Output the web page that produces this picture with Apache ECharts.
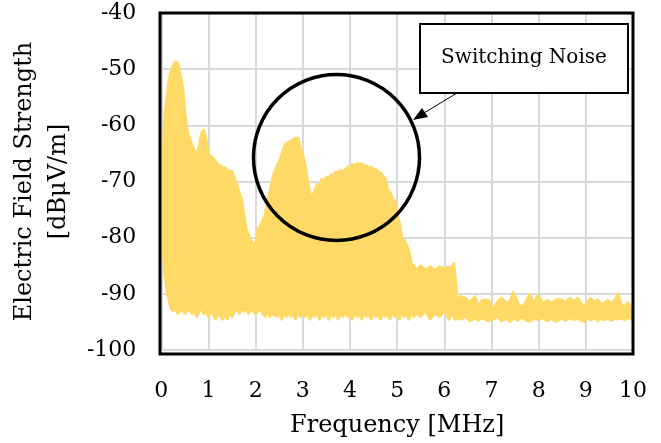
<!DOCTYPE html>
<html>
<head>
<meta charset="utf-8">
<script src="https://cdn.jsdelivr.net/npm/echarts@6.0.0/dist/echarts.min.js"></script>
<style>
  html, body { margin: 0; padding: 0; background: #fff; }
  #chart { width: 661px; height: 443px; }
</style>
</head>
<body>
<div id="chart"></div>
<script>
// frequency points [MHz] with the upper / lower edge of the measured band [dBuV/m]
const freq = [
  0, 0.02, 0.05, 0.08, 0.12, 0.16, 0.2, 0.25, 0.3, 0.35, 0.4, 0.45, 0.5, 0.55, 0.6, 0.65, 0.7, 0.75, 0.8, 0.85,
  0.9, 0.95, 1.0, 1.05, 1.1, 1.15, 1.2, 1.25, 1.3, 1.35, 1.4, 1.45, 1.5, 1.55, 1.6, 1.65, 1.7, 1.75, 1.8, 1.85,
  1.9, 1.95, 2.0, 2.05, 2.1, 2.15, 2.2, 2.26, 2.3, 2.37, 2.45, 2.5, 2.55, 2.6, 2.65, 2.7, 2.75, 2.8, 2.85, 2.9,
  2.95, 3.0, 3.05, 3.1, 3.15, 3.2, 3.25, 3.3, 3.35, 3.4, 3.45, 3.5, 3.55, 3.6, 3.65, 3.7, 3.75, 3.8, 3.85, 3.9,
  3.95, 4.0, 4.05, 4.1, 4.15, 4.2, 4.25, 4.3, 4.35, 4.4, 4.45, 4.5, 4.55, 4.6, 4.65, 4.7, 4.75, 4.8, 4.85, 4.9,
  4.95, 5.0, 5.05, 5.1, 5.15, 5.2, 5.25, 5.3, 5.35, 5.4, 5.5, 5.6, 5.7, 5.8, 5.9, 6.0, 6.1, 6.15, 6.2, 6.24,
  6.28, 6.35, 6.45, 6.55, 6.65, 6.72, 6.8, 6.93, 7.04, 7.12, 7.21, 7.32, 7.4, 7.46, 7.55, 7.64, 7.72, 7.81, 7.9, 7.99,
  8.09, 8.18, 8.27, 8.38, 8.48, 8.57, 8.66, 8.75, 8.83, 8.97, 9.04, 9.11, 9.18, 9.25, 9.32, 9.39, 9.46, 9.54, 9.61, 9.68,
  9.75, 9.82, 9.9, 9.96, 10
];
const upper = [
  -70, -66, -62, -58, -55, -52, -50.5, -49.5, -48.7, -49, -51, -53, -58, -61, -62.5, -63.5, -64.5, -65.3, -64, -61.5,
  -60.9, -62.5, -65.3, -65.5, -65.9, -66.5, -67, -67.2, -67.5, -67.6, -68, -68.2, -68.2, -69.5, -70.6, -72, -73.2, -76, -78.5, -79.5,
  -80.5, -81, -81.4, -78.5, -77.8, -77, -76, -73.5, -72, -69.1, -67.3, -66.5, -65.3, -64, -63.2, -63, -62.9, -62.5, -62.3, -62.3,
  -64, -65.5, -67.2, -70, -72.3, -72.5, -72, -70.5, -71, -69.6, -70, -69.2, -69.6, -68.8, -69, -68.3, -68.5, -68, -68.3, -67.9,
  -67.4, -67.6, -67, -67.3, -66.8, -67, -66.8, -67.3, -67.2, -67.6, -67.5, -67.8, -67.9, -68.3, -68.5, -69, -69.5, -71.5, -72, -73,
  -73.5, -76, -77.5, -80, -80.5, -81.4, -82.5, -84.6, -85, -85.8, -85, -85.8, -85.2, -85.8, -85.2, -85.6, -85.2, -85.8, -84.6, -88,
  -91.7, -90.5, -90.8, -91.5, -90.5, -92.3, -91.2, -91.1, -92.9, -91.5, -90.8, -91.7, -91.3, -89.8, -91.5, -92.6, -91.5, -90.1, -91.8, -90.3,
  -91.7, -91.2, -91.7, -91.0, -91.1, -91.6, -90.8, -91.4, -90.8, -92.6, -91.4, -90.8, -91.6, -91.1, -91.8, -91.7, -91.2, -91.7, -91.3, -90.0,
  -91.9, -92.3, -91.6, -92.5, -93
];
const lower = [
  -79, -79.5, -84, -86.5, -89.5, -91, -92.5, -93, -92.5, -93.5, -93, -92.5, -93.5, -93, -92.5, -93.5, -93, -94, -93, -92.5,
  -93.5, -93, -94, -93, -93.5, -94.5, -93, -94, -94.5, -93.5, -94.5, -93, -94, -93, -92.5, -93.5, -92.5, -93, -92.5, -93.5,
  -92.8, -93, -93.5, -93, -92.5, -93.5, -94, -93, -94, -93.5, -94, -93, -94.5, -93.5, -94, -93, -94, -93.5, -94.5, -93,
  -94, -93.5, -94, -93, -94.5, -93.5, -94, -93, -94.5, -93.5, -94, -93, -94.5, -93.5, -94, -93, -94.5, -93.5, -94, -93,
  -94, -93.5, -94.5, -93, -94, -93.5, -94.5, -93, -94, -93.5, -94.5, -93, -94, -93.5, -94.5, -93, -94, -93.5, -94.5, -93,
  -94, -93.5, -94.5, -93, -94, -93.5, -94.5, -93, -94, -93.5, -94, -93, -94.5, -93.5, -94, -93, -94.5, -93.5, -94, -94.5,
  -94.3, -94.5, -94, -94.8, -94.3, -94.7, -94.2, -94.8, -94.5, -94, -94.8, -94.4, -94.9, -94.3, -94.7, -94.1, -94.6, -94.9, -94.3, -94.6,
  -94.2, -94.8, -94.4, -94.9, -94.3, -94.7, -94.2, -94.6, -94.4, -94.9, -94.3, -94.6, -94.2, -94.8, -94.4, -94.6, -94.2, -94.7, -94.3, -94.5,
  -94.2, -94.6, -94.2, -94.4, -94
];

const xTicks = [0, 1, 2, 3, 4, 5, 6, 7, 8, 9, 10];
const yTicks = [-100, -90, -80, -70, -60, -50, -40];

const FONT = 'DejaVu Serif';
const YELLOW = '#FFD966';

const chart = echarts.init(document.getElementById('chart'));

// the band: upper edge left to right, then lower edge back
function renderBand(params, api) {
  const pts = [];
  for (let i = 0; i < freq.length; i++) pts.push(api.coord([freq[i], upper[i]]));
  for (let i = freq.length - 1; i >= 0; i--) pts.push(api.coord([freq[i], lower[i]]));
  return {
    type: 'polygon',
    shape: { points: pts },
    style: { fill: YELLOW, stroke: YELLOW, lineWidth: 3, lineJoin: 'round' }
  };
}

const option = {
  animation: false,
  backgroundColor: '#fff',
  grid: { left: 160, right: 28, top: 13, bottom: 89 },
  xAxis: {
    type: 'value',
    min: xTicks[0],
    max: xTicks[xTicks.length - 1],
    interval: 1,
    axisLine: { show: false },
    axisTick: { show: false },
    splitLine: { lineStyle: { color: '#d9d9d9', width: 2 } },
    axisLabel: { margin: 30, fontFamily: FONT, fontSize: 22, color: '#000' },
    name: 'Frequency [MHz]',
    nameLocation: 'middle',
    nameGap: 64,
    nameTextStyle: { fontFamily: FONT, fontSize: 24, color: '#000' }
  },
  yAxis: {
    type: 'value',
    min: yTicks[0],
    max: yTicks[yTicks.length - 1],
    interval: 10,
    axisLine: { show: false },
    axisTick: { show: false },
    splitLine: { lineStyle: { color: '#d9d9d9', width: 2 } },
    axisLabel: { margin: 25, fontFamily: FONT, fontSize: 22, color: '#000' },
    name: 'Electric Field Strength\n[dBμV/m]',
    nameLocation: 'middle',
    nameGap: 81,
    nameTextStyle: { fontFamily: FONT, fontSize: 24, color: '#000', lineHeight: 34 }
  },
  series: [
    {
      type: 'custom',
      clip: true,
      data: [[freq[0], upper[0]]],
      renderItem: renderBand
    }
  ],
  graphic: [
    {
      type: 'rect',
      z: 100,
      shape: { x: 160, y: 13, width: 473, height: 341 },
      style: { fill: 'none', stroke: '#000', lineWidth: 3 }
    },
    {
      type: 'circle',
      z: 100,
      shape: { cx: 336.5, cy: 157.5, r: 83 },
      style: { fill: 'none', stroke: '#000', lineWidth: 3.5 }
    },
    {
      type: 'line',
      z: 100,
      shape: { x1: 457, y1: 93, x2: 424, y2: 113 },
      style: { stroke: '#000', lineWidth: 1 }
    },
    {
      type: 'polygon',
      z: 100,
      shape: { points: [[413, 120], [428, 117], [422, 108]] },
      style: { fill: '#000' }
    },
    {
      type: 'rect',
      z: 100,
      shape: { x: 420, y: 24, width: 208, height: 69 },
      style: { fill: '#fff', stroke: '#000', lineWidth: 2 }
    },
    {
      type: 'text',
      z: 101,
      x: 524,
      y: 58,
      style: {
        text: 'Switching Noise',
        fontFamily: FONT,
        fontSize: 20,
        fill: '#000',
        align: 'center',
        verticalAlign: 'middle'
      }
    }
  ]
};

chart.setOption(option);
</script>
</body>
</html>
